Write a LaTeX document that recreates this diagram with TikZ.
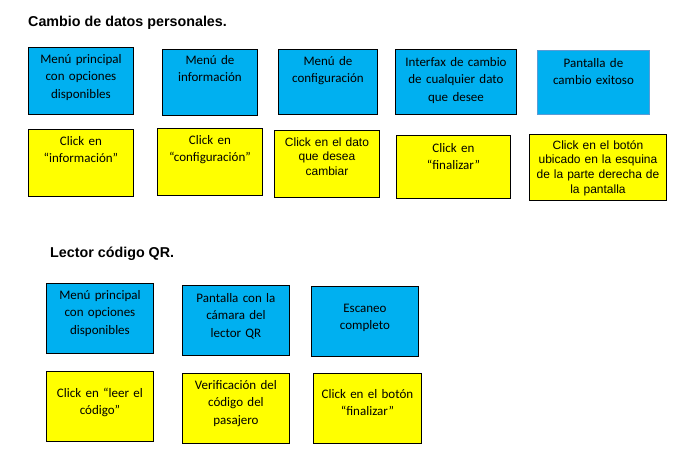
\documentclass[tikz,border=0pt]{standalone}
\usepackage{fontspec}
\setmainfont{Carlito}
\newfontfamily\arialf{Liberation Sans}
\usetikzlibrary{calc}
\definecolor{boxblue}{HTML}{00B0F0}
\definecolor{boxyellow}{HTML}{FFFF00}
\definecolor{edgeblue}{HTML}{5B9BD5}
\tikzset{
  bluebox/.style={draw=black, fill=boxblue, line width=0.9pt, inner sep=0pt, anchor=north west},
  yellowbox/.style={draw=black, fill=boxyellow, line width=0.9pt, inner sep=0pt, anchor=north west},
  cal/.style={anchor=base, align=center, inner sep=0pt, font=\fontsize{13}{17.5}\selectfont},
  ari/.style={anchor=base, align=center, inner sep=0pt, font=\arialf\fontsize{12}{14.8}\selectfont},
  titletext/.style={anchor=base west, inner sep=0pt, font=\arialf\bfseries\fontsize{14.3}{16}\selectfont}
}
% \bx{name}{style}{x1}{y1}{x2}{y2}
\newcommand{\bx}[6]{\node[#2, minimum width=#5pt-#3pt, minimum height=#6pt-#4pt] (#1) at (#3pt,-#4pt) {};}
% \tx{name}{box}{gap}{style}{width}{text}
\newcommand{\tx}[6]{\node[#4, text width=#5pt] (#1) at ($(#2.north)+(0,-#3pt)$) {#6};}
\begin{document}
\begin{tikzpicture}[x=1pt,y=1pt]
\useasboundingbox (0,0) rectangle (698,-463);
\fill[white] (0,0) rectangle (698,-463);

\node[titletext] (title1) at (28,-27) {Cambio de datos personales.};
\node[titletext] (title2) at (50,-257) {Lector código QR.};

% Section 1 blue
\bx{a1}{bluebox}{28}{47}{133}{114}
\bx{a2}{bluebox}{162}{49}{257}{115}
\bx{a3}{bluebox}{278}{49}{377}{114}
\bx{a4}{bluebox}{395}{49}{516}{114}
\bx{a5}{bluebox, draw=edgeblue}{537}{50}{649}{114}
\tx{ta1}{a1}{16}{cal}{100}{Menú principal\\con opciones\\disponibles}
\tx{ta2}{a2}{15}{cal}{92}{Menú de\\información}
\tx{ta3}{a3}{16}{cal}{96}{Menú de\\configuración}
\tx{ta4}{a4}{17}{cal}{118}{Interfax de cambio\\de cualquier dato\\que desee}
\tx{ta5}{a5}{17}{cal}{110}{Pantalla de\\cambio exitoso}

% Section 1 yellow
\bx{c1}{yellowbox}{28}{129}{133}{196}
\bx{c2}{yellowbox}{157}{128}{262}{195}
\bx{c3}{yellowbox}{274}{130}{379}{197}
\bx{c4}{yellowbox}{396}{135}{510}{198}
\bx{c5}{yellowbox}{529}{134}{666}{200}
\tx{tc1}{c1}{16}{cal}{100}{Click en\\“información”}
\tx{tc2}{c2}{16}{cal}{100}{Click en\\“configuración”}
\tx{tc3}{c3}{16}{ari}{102}{Click en el dato\\que desea\\cambiar}
\tx{tc4}{c4}{17}{cal}{110}{Click en\\“finalizar”}
\tx{tc5}{c5}{15}{ari}{134}{Click en el botón\\ubicado en la esquina\\de la parte derecha de\\la pantalla}

% Section 2 blue
\bx{d1}{bluebox}{46}{283}{153}{353}
\bx{d2}{bluebox}{182}{285}{289}{355}
\bx{d3}{bluebox}{311}{286}{418}{356}
\tx{td1}{d1}{16}{cal}{104}{Menú principal\\con opciones\\disponibles}
\tx{td2}{d2}{17}{cal}{104}{Pantalla con la\\cámara del\\lector QR}
\tx{td3}{d3}{26}{cal}{104}{Escaneo\\completo}

% Section 2 yellow
\bx{e1}{yellowbox}{46}{371}{153}{441}
\bx{e2}{yellowbox}{182}{373}{289}{443}
\bx{e3}{yellowbox}{313}{373}{421}{443}
\tx{te1}{e1}{26}{cal}{104}{Click en “leer el\\código”}
\tx{te2}{e2}{16}{cal}{104}{Verificación del\\código del\\pasajero}
\tx{te3}{e3}{25}{cal}{104}{Click en el botón\\“finalizar”}
\end{tikzpicture}
\end{document}
